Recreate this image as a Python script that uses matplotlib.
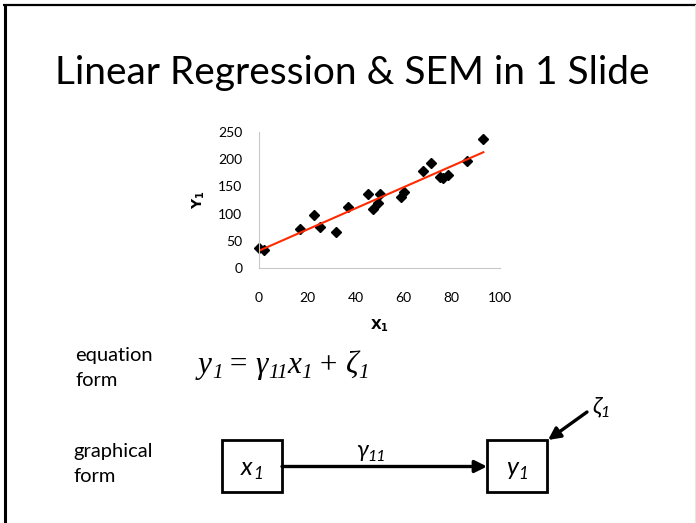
import numpy as np
import matplotlib
matplotlib.use("Agg")
import matplotlib.pyplot as plt
from matplotlib.patches import Rectangle, FancyArrowPatch

# scatter data (x1, y1)
x1 = [0, 2.1, 16.9, 22.9, 25.2, 32.1, 37.1, 45.2, 47.1, 49.2,
      50.1, 59.1, 60.2, 68.1, 71.2, 75.1, 76.5, 78.3, 86.1, 93.1]
y1 = [36.6, 33.5, 72, 97.6, 76, 67, 111.6, 136.6, 108, 119,
      136, 130, 139, 178.7, 193, 167.7, 166, 170.7, 196, 236]
x_ticks = [0, 20, 40, 60, 80, 100]
y_ticks = [0, 50, 100, 150, 200, 250]

SANS = ['Lato', 'Noto Sans', 'DejaVu Sans']
SERIF = ['Liberation Serif', 'DejaVu Serif']
plt.rcParams['font.family'] = SANS

W, H = 696, 523
fig = plt.figure(figsize=(W / 100, H / 100), dpi=100)
renderer = fig.canvas.get_renderer()

# slide layer in pixel coordinates
bg = fig.add_axes([0, 0, 1, 1])
bg.set_xlim(0, W)
bg.set_ylim(H, 0)
bg.axis('off')


def run_text(x, y, pieces, size, family, ha='left'):
    """Write a row of (text, is_subscript, style) pieces starting at baseline y."""
    arts = []
    for s, sub, style in pieces:
        fs = size * 0.68 if sub else size
        dy = size * 0.22 if sub else 0
        t = bg.text(x, y + dy, s, fontsize=fs, family=family, style=style,
                    ha='left', va='baseline')
        x += t.get_window_extent(renderer).width
        arts.append(t)
    if ha == 'center':
        shift = (x - arts[0].get_position()[0]) / 2
        for t in arts:
            px, py = t.get_position()
            t.set_position((px - shift, py))
    return arts


# slide frame
bg.plot([4.5, 4.5], [4, H], color='black', lw=2.2, solid_capstyle='butt')
bg.plot([3, W], [5, 5], color='black', lw=1.6, solid_capstyle='butt')
bg.plot([695, 695], [5, H], color='#e6e6e6', lw=0.8)

bg.text(352, 73, 'Linear Regression & SEM in 1 Slide', fontsize=28,
        ha='center', va='center')

# scatter with trend line
ax = fig.add_axes([259 / W, (H - 268.3) / H, 241 / W, 136.6 / H])
ax.set_xlim(0, 100)
ax.set_ylim(0, 250)
ax.plot(x1, y1, 'D', color='black', markersize=4.6, clip_on=False)
k, b = np.polyfit(x1, y1, 1)
xs = np.array([min(x1), max(x1)])
ax.plot(xs, k * xs + b, color='#ff2a00', lw=1.5)
for s in ['top', 'right']:
    ax.spines[s].set_visible(False)
for s in ['left', 'bottom']:
    ax.spines[s].set_color('#c8c8c8')
    ax.spines[s].set_linewidth(0.8)
ax.set_xticks(x_ticks)
ax.set_yticks(y_ticks)
ax.tick_params(length=0, labelsize=10)
ax.tick_params(axis='x', pad=17)
ax.tick_params(axis='y', pad=12)
ax.set_xlabel(r'$\mathbf{X}_\mathbf{1}$', fontsize=10, labelpad=10,
              math_fontfamily='dejavusans')
ax.set_ylabel(r'$\mathbf{Y}_\mathbf{1}$', fontsize=10, labelpad=8,
              math_fontfamily='dejavusans')

# equation form
bg.text(75, 355, 'equation', fontsize=14.5, ha='left', va='center')
bg.text(75, 381, 'form', fontsize=14.5, ha='left', va='center')
run_text(198, 373, [('y', False, 'italic'), ('1', True, 'italic'),
                    (' = ', False, 'normal'),
                    ('γ', False, 'italic'), ('11', True, 'italic'),
                    ('x', False, 'italic'), ('1', True, 'italic'),
                    (' + ', False, 'normal'),
                    ('ζ', False, 'italic'), ('1', True, 'italic')],
         22.5, SERIF)

# graphical form
bg.text(73, 452, 'graphical', fontsize=14.5, ha='left', va='center')
bg.text(73, 477, 'form', fontsize=14.5, ha='left', va='center')

bg.add_patch(Rectangle((222, 440), 60, 52, fill=False, lw=2, ec='black'))
bg.add_patch(Rectangle((487, 440), 60, 52, fill=False, lw=2, ec='black'))
run_text(252, 475, [('x', False, 'italic'), ('1', True, 'italic')],
         18, SANS, ha='center')
run_text(517, 475, [('y', False, 'italic'), ('1', True, 'italic')],
         18, SANS, ha='center')

bg.add_patch(FancyArrowPatch((282, 466.5), (487, 466.5), arrowstyle='-|>',
                             mutation_scale=18, lw=2.4, color='black',
                             shrinkA=0, shrinkB=0))
run_text(371, 457, [('γ', False, 'italic'), ('11', True, 'italic')],
         17, SANS, ha='center')

bg.add_patch(FancyArrowPatch((587, 412), (548, 440), arrowstyle='-|>',
                             mutation_scale=18, lw=2.4, color='black',
                             shrinkA=0, shrinkB=0))
run_text(592, 413, [('ζ', False, 'italic'), ('1', True, 'italic')],
         17, SANS)

fig.savefig('out.png', dpi=100)
